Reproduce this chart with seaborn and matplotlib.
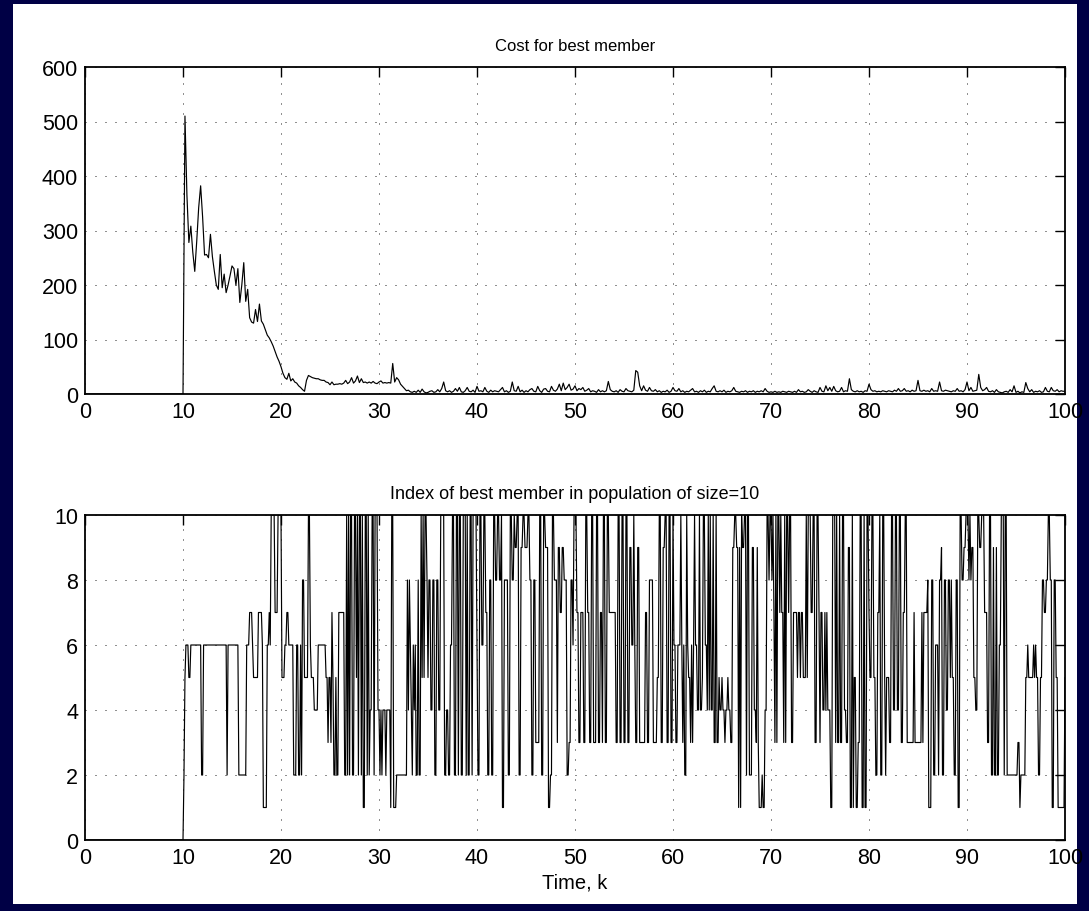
import numpy as np
import pandas as pd
import matplotlib
matplotlib.use("Agg")
import matplotlib.pyplot as plt
import seaborn as sns
from matplotlib.patches import Rectangle

sns.set_theme(style="white")
plt.rcParams['font.family'] = ['Liberation Sans', 'DejaVu Sans']

# ---------------- data ----------------
COST_STEP = 0.2        # time between cost samples
INDEX_STEP = 0.1       # time between index samples
SAMPLE_START = 10.0    # first sample time
lead_time = [0.0]      # series are zero before k = 10
lead_value = [0]

cost = [
    0, 510, 365, 278, 308,
    260, 225, 280, 342, 382,
    325, 255, 256, 250, 293,
    252, 225, 200, 192, 256,
    195, 220, 186, 200, 217,
    235, 230, 200, 230, 168,
    200, 241, 170, 192, 140,
    132, 130, 155, 133, 165,
    134, 128, 118, 108, 103,
    96, 88, 78, 68, 60,
    50, 38, 30, 27, 38,
    24, 28, 22, 20, 15,
    12, 8, 5, 25, 34,
    32, 30, 29, 28, 28,
    26, 25, 25, 22, 21,
    17, 22, 17, 18, 18,
    19, 18, 20, 25, 19,
    22, 30, 20, 24, 33,
    21, 28, 21, 22, 20,
    22, 20, 23, 20, 19,
    22, 24, 20, 21, 20,
    21, 20, 56, 22, 30,
    26, 18, 14, 10, 6,
    7, 4, 3, 5, 3,
    7, 3, 9, 4, 2,
    3, 5, 6, 3, 4,
    8, 4, 10, 22, 6,
    4, 6, 3, 5, 10,
    5, 12, 4, 3, 6,
    12, 5, 4, 7, 3,
    14, 5, 6, 4, 12,
    5, 3, 7, 4, 6,
    5, 4, 8, 12, 4,
    6, 3, 5, 22, 6,
    5, 14, 4, 7, 3,
    6, 4, 8, 10, 5,
    4, 14, 6, 3, 9,
    10, 5, 4, 14, 7,
    5, 9, 18, 6, 20,
    8, 12, 18, 7, 9,
    15, 6, 10, 8, 12,
    5, 7, 10, 4, 6,
    5, 3, 8, 4, 6,
    4, 6, 23, 8, 5,
    4, 6, 3, 8, 5,
    4, 10, 6, 5, 4,
    7, 43, 40, 15, 6,
    15, 7, 5, 12, 6,
    5, 8, 4, 6, 3,
    5, 4, 7, 3, 5,
    12, 6, 5, 10, 4,
    6, 3, 5, 4, 7,
    10, 4, 5, 3, 6,
    4, 7, 3, 5, 4,
    10, 15, 5, 4, 6,
    4, 7, 3, 5, 4,
    6, 12, 5, 4, 3,
    5, 4, 6, 3, 5,
    4, 6, 3, 5, 4,
    6, 4, 10, 5, 3,
    4, 3, 5, 3, 4,
    3, 5, 4, 3, 5,
    4, 3, 5, 3, 8,
    4, 5, 3, 4, 8,
    5, 3, 6, 4, 3,
    12, 5, 4, 15, 6,
    12, 5, 14, 6, 4,
    5, 12, 4, 6, 5,
    28, 8, 5, 4, 6,
    4, 5, 3, 6, 5,
    18, 8, 5, 6, 4,
    5, 4, 6, 5, 4,
    6, 5, 4, 7, 5,
    10, 5, 6, 10, 5,
    6, 4, 7, 5, 6,
    25, 6, 5, 7, 5,
    6, 4, 10, 5, 6,
    5, 22, 6, 5, 7,
    6, 5, 4, 6, 5,
    10, 5, 6, 4, 8,
    22, 6, 12, 5, 6,
    7, 36, 12, 6, 8,
    12, 5, 4, 6, 3,
    8, 4, 3, 2, 4,
    5, 3, 8, 4, 15,
    3, 5, 2, 4, 3,
    21, 10, 4, 8, 3,
    5, 4, 6, 3, 4,
    12, 5, 4, 12, 6,
    5, 8, 4, 6, 5,
    5,
]

best_index = [
    0, 2, 5, 6, 6, 6, 5, 5, 6, 6,
    6, 6, 6, 6, 6, 6, 6, 6, 6, 2,
    2, 6, 6, 6, 6, 6, 6, 6, 6, 6,
    6, 6, 6, 6, 6, 6, 6, 6, 6, 6,
    6, 6, 6, 6, 6, 2, 6, 6, 6, 6,
    6, 6, 6, 6, 6, 6, 6, 2, 2, 2,
    2, 2, 2, 2, 2, 6, 6, 6, 7, 7,
    7, 6, 5, 5, 5, 5, 5, 7, 7, 7,
    7, 6, 1, 1, 1, 1, 6, 6, 7, 6,
    10, 10, 10, 10, 7, 7, 7, 10, 10, 10,
    10, 5, 5, 5, 6, 6, 7, 7, 6, 6,
    6, 6, 6, 2, 2, 2, 6, 6, 2, 2,
    6, 2, 8, 8, 5, 5, 5, 5, 10, 10,
    6, 5, 5, 5, 4, 4, 4, 4, 6, 6,
    6, 6, 6, 6, 6, 6, 5, 5, 3, 5,
    5, 3, 7, 5, 2, 2, 5, 2, 2, 7,
    7, 7, 7, 7, 7, 2, 2, 10, 2, 10,
    2, 10, 10, 2, 2, 10, 10, 5, 10, 2,
    10, 10, 2, 10, 1, 1, 10, 10, 2, 10,
    2, 4, 4, 10, 10, 2, 10, 10, 10, 4,
    4, 2, 4, 2, 4, 4, 4, 2, 4, 4,
    4, 4, 1, 10, 10, 1, 1, 1, 2, 2,
    2, 2, 2, 2, 2, 2, 2, 2, 2, 8,
    4, 8, 6, 4, 2, 6, 4, 6, 2, 2,
    8, 2, 2, 10, 5, 10, 5, 10, 10, 8,
    5, 8, 8, 4, 4, 8, 8, 2, 2, 8,
    8, 4, 4, 10, 10, 10, 10, 2, 2, 4,
    4, 2, 2, 6, 6, 10, 10, 2, 2, 10,
    10, 2, 10, 10, 2, 2, 10, 10, 10, 2,
    10, 2, 2, 10, 10, 2, 10, 10, 10, 10,
    6, 2, 2, 10, 10, 6, 6, 10, 10, 7,
    7, 2, 2, 8, 8, 2, 2, 10, 10, 8,
    8, 10, 10, 8, 8, 10, 1, 1, 8, 8,
    8, 8, 2, 2, 10, 10, 8, 8, 10, 9,
    9, 10, 10, 2, 2, 9, 9, 10, 10, 9,
    9, 9, 10, 10, 8, 8, 2, 2, 8, 8,
    3, 3, 3, 3, 10, 10, 2, 2, 10, 10,
    9, 9, 9, 1, 1, 2, 2, 10, 10, 8,
    8, 8, 3, 9, 9, 7, 7, 9, 9, 8,
    8, 8, 2, 2, 3, 3, 8, 8, 6, 10,
    10, 10, 7, 7, 3, 3, 7, 7, 7, 3,
    3, 10, 10, 7, 7, 3, 3, 10, 10, 3,
    3, 3, 10, 10, 3, 3, 7, 7, 3, 10,
    10, 3, 3, 10, 10, 7, 7, 7, 7, 7,
    7, 7, 3, 3, 10, 10, 3, 3, 10, 10,
    3, 3, 10, 10, 3, 3, 9, 9, 6, 6,
    10, 6, 3, 3, 9, 9, 3, 3, 3, 3,
    3, 3, 7, 7, 3, 3, 8, 8, 8, 8,
    3, 3, 3, 3, 5, 5, 10, 10, 3, 3,
    9, 9, 10, 10, 3, 3, 10, 10, 3, 3,
    10, 6, 6, 3, 3, 6, 6, 6, 10, 6,
    3, 6, 2, 2, 10, 6, 5, 5, 3, 6,
    3, 6, 10, 6, 6, 4, 4, 10, 4, 4,
    5, 10, 10, 6, 6, 4, 10, 4, 10, 4,
    4, 10, 3, 3, 10, 3, 3, 5, 4, 4,
    5, 4, 4, 3, 4, 4, 5, 4, 4, 3,
    3, 9, 9, 10, 10, 9, 9, 1, 9, 1,
    10, 9, 9, 10, 10, 2, 10, 10, 2, 2,
    2, 9, 9, 4, 4, 3, 9, 3, 1, 1,
    1, 2, 1, 1, 4, 4, 10, 10, 8, 10,
    10, 8, 10, 7, 3, 10, 3, 10, 10, 7,
    10, 7, 7, 3, 10, 3, 10, 10, 7, 10,
    10, 3, 3, 7, 7, 7, 7, 5, 7, 7,
    5, 7, 7, 5, 5, 5, 10, 5, 10, 10,
    10, 7, 7, 10, 10, 3, 3, 10, 10, 7,
    3, 7, 7, 4, 4, 7, 4, 7, 4, 4,
    4, 1, 1, 10, 10, 10, 3, 10, 3, 3,
    10, 3, 3, 10, 10, 4, 4, 3, 3, 9,
    9, 1, 1, 10, 1, 5, 5, 1, 1, 3,
    3, 10, 10, 1, 1, 10, 1, 1, 10, 10,
    7, 5, 5, 10, 10, 5, 5, 2, 2, 7,
    7, 10, 2, 2, 10, 10, 5, 2, 5, 5,
    5, 3, 3, 10, 10, 4, 4, 10, 10, 4,
    4, 10, 10, 3, 3, 7, 7, 10, 10, 3,
    3, 3, 3, 3, 3, 3, 7, 3, 3, 3,
    3, 3, 3, 3, 7, 3, 7, 7, 7, 7,
    8, 1, 1, 1, 8, 8, 2, 2, 6, 6,
    6, 2, 8, 8, 9, 2, 2, 8, 8, 4,
    4, 8, 8, 5, 8, 5, 5, 2, 2, 8,
    8, 1, 1, 10, 10, 8, 8, 9, 9, 10,
    10, 10, 8, 10, 8, 9, 9, 5, 5, 4,
    4, 10, 10, 9, 9, 10, 10, 10, 7, 7,
    7, 3, 3, 10, 10, 2, 2, 9, 2, 2,
    9, 2, 2, 6, 6, 10, 10, 10, 2, 10,
    10, 2, 2, 2, 2, 2, 2, 2, 2, 2,
    2, 2, 3, 3, 1, 2, 2, 2, 2, 2,
    5, 5, 6, 5, 5, 5, 5, 5, 6, 5,
    6, 5, 5, 2, 2, 5, 5, 8, 8, 7,
    7, 8, 8, 10, 10, 8, 8, 1, 1, 8,
    8, 5, 5, 1, 1, 1, 1, 1, 1, 1,
    5,
]

x_ticks = list(range(0, 101, 10))
cost_ticks = list(range(0, 601, 100))
index_ticks = list(range(0, 11, 2))
title_cost = "Cost for best member"
title_index = "Index of best member in population of size=10"
x_label = "Time, k"

# ---------------- build tables ----------------
cost_times = SAMPLE_START + COST_STEP * np.arange(len(cost))
df_cost = pd.DataFrame({"t": np.concatenate([lead_time, cost_times]),
                        "v": np.concatenate([lead_value, cost])})
index_times = SAMPLE_START + INDEX_STEP * np.arange(len(best_index))
df_idx = pd.DataFrame({"t": np.concatenate([lead_time, index_times]),
                       "v": np.concatenate([lead_value, best_index])})

# ---------------- figure ----------------
W, H = 1089, 912
fig = plt.figure(figsize=(W / 100, H / 100), dpi=100, facecolor="#000045")
fig.patches.append(Rectangle((13 / W, 1 - 905 / H), (1077 - 13) / W, (905 - 5) / H,
                             transform=fig.transFigure, facecolor="white",
                             edgecolor="none", zorder=-10))

def frac(l, t, r, b):
    return [l / W, 1 - b / H, (r - l) / W, (b - t) / H]

ax1 = fig.add_axes(frac(85, 68, 1065, 395))
ax2 = fig.add_axes(frac(85, 516, 1065, 841))

sns.lineplot(data=df_cost, x="t", y="v", ax=ax1, color="black", linewidth=0.85,
             estimator=None, sort=False)
sns.lineplot(data=df_idx, x="t", y="v", ax=ax2, color="black", linewidth=0.85,
             estimator=None, sort=False)

def style(ax, yticks, ylim):
    ax.set_facecolor("white")
    ax.set_xlim(0, 100)
    ax.set_ylim(*ylim)
    ax.set_xticks(x_ticks)
    ax.set_yticks(yticks)
    ax.set_xlabel("")
    ax.set_ylabel("")
    ax.set_axisbelow(True)
    ax.grid(True, color="#222222", linestyle=(0, (1, 9)), linewidth=0.72)
    ax.tick_params(direction="in", length=7, width=1.0, top=True, right=True,
                   labelsize=15.5, pad=5, colors="black")
    for sp in ax.spines.values():
        sp.set_visible(True)
        sp.set_color("black")
        sp.set_linewidth(1.3)

style(ax1, cost_ticks, (0, 600))
style(ax2, index_ticks, (0, 10))
ax1.set_title(title_cost, fontsize=12, pad=12, color="black")
ax2.set_title(title_index, fontsize=13, pad=12, color="black")
ax2.set_xlabel(x_label, fontsize=14.5, labelpad=3, color="black")

fig.savefig("out.png", dpi=100, facecolor=fig.get_facecolor())
